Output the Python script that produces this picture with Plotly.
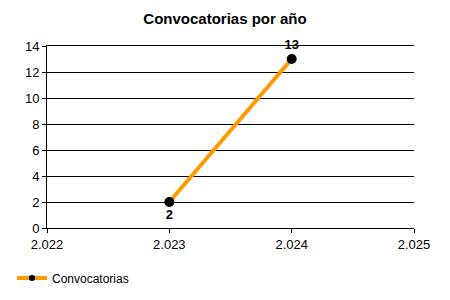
import plotly.graph_objects as go

years = [2023, 2024]
counts = [2, 13]
x_tick_vals = [2022, 2023, 2024, 2025]
x_tick_text = ["2.022", "2.023", "2.024", "2.025"]
label_positions = ["bottom center", "top center"]
series_name = "Convocatorias"
title_text = "Convocatorias por año"

fig = go.Figure()
fig.add_trace(go.Scatter(
    x=years, y=counts, mode="lines+markers+text", name=series_name,
    line=dict(color="#FF9900", width=4),
    marker=dict(color="black", size=10),
    text=[str(v) for v in counts], textposition=label_positions,
    textfont=dict(family="Liberation Sans", size=13, color="black", weight="bold"),
    cliponaxis=False, showlegend=False,
))
# legend entry with a small marker, as in the reference
fig.add_trace(go.Scatter(
    x=[None], y=[None], mode="lines+markers", name=series_name,
    line=dict(color="#FF9900", width=4),
    marker=dict(color="black", size=6),
    showlegend=True,
))

fig.update_layout(
    width=450, height=300,
    margin=dict(l=47, r=36, t=46, b=72),
    paper_bgcolor="white", plot_bgcolor="white",
    title=dict(text="<b>" + title_text + "</b>", x=0.5, xanchor="center",
               y=1 - 19 / 300, yanchor="middle",
               font=dict(family="Liberation Sans", size=15, color="black")),
    font=dict(family="Liberation Sans", size=12, color="black"),
    showlegend=True,
    legend=dict(orientation="h", xref="container", yref="container",
                x=12 / 450, xanchor="left", y=1 - 278 / 300, yanchor="middle",
                font=dict(family="Liberation Sans", size=12, color="black"),
                bgcolor="rgba(0,0,0,0)"),
    xaxis=dict(range=[2022, 2025], tickvals=x_tick_vals, ticktext=x_tick_text,
               showgrid=False, showline=True, linecolor="black", linewidth=1,
               mirror=True,
               ticks="outside", ticklen=4, tickcolor="black", zeroline=False,
               tickfont=dict(size=13)),
    yaxis=dict(range=[0, 14], dtick=2, showgrid=True, gridcolor="black", gridwidth=1,
               showline=True, linecolor="black", linewidth=1,
               ticks="outside", ticklen=4, tickcolor="black", zeroline=False,
               tickfont=dict(size=13)),
)

fig.write_html("out.html")
